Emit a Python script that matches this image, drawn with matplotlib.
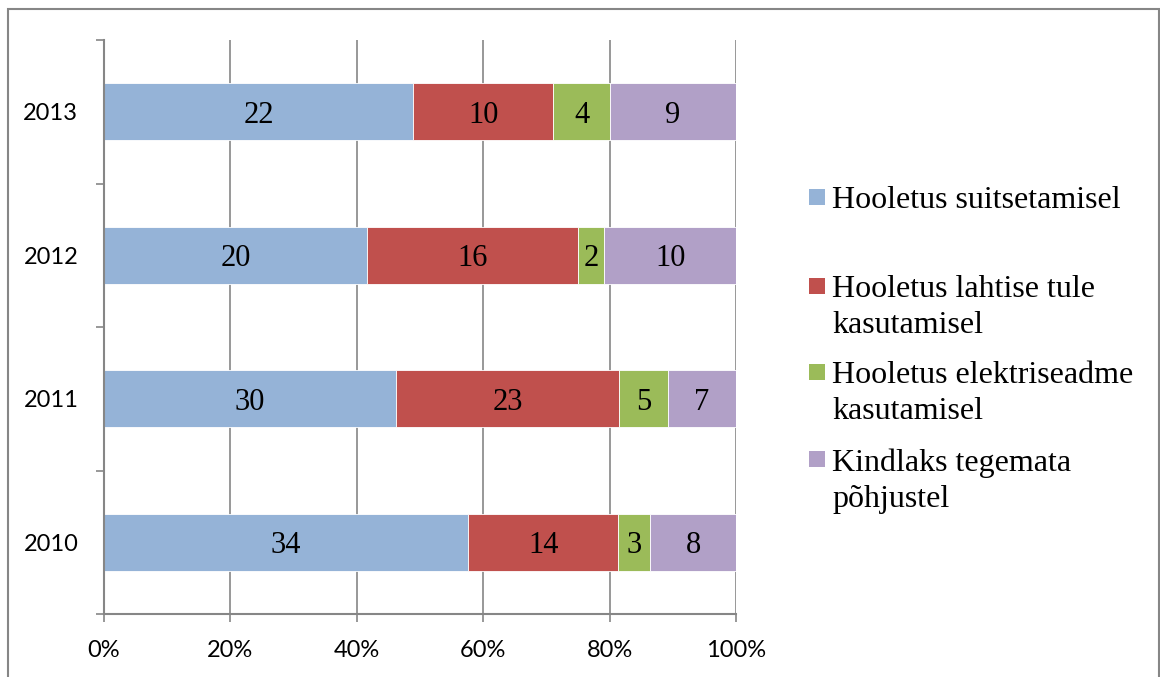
import matplotlib
matplotlib.use('Agg')
import matplotlib.pyplot as plt
from matplotlib.patches import Rectangle
import numpy as np

# andmed
years = ['2010', '2011', '2012', '2013']
series_names = ['Hooletus suitsetamisel',
                'Hooletus lahtise tule\nkasutamisel',
                'Hooletus elektriseadme\nkasutamisel',
                'Kindlaks tegemata\npõhjustel']
smoking = [34, 30, 20, 22]
open_fire = [14, 23, 16, 10]
electric = [3, 5, 2, 4]
unknown = [8, 7, 10, 9]

colors = ['#95B3D7', '#C0504D', '#9BBB59', '#B1A0C7']
grey = '#868686'
serif = 'Liberation Serif'
sans = 'Lato'

W, H = 1160, 677
fig = plt.figure(figsize=(W / 100, H / 100), dpi=100)
fig.patch.set_facecolor('white')

# raam ümber diagrammi
fig.patches.append(Rectangle((8 / W, -0.05), (1159 - 8) / W, 1.05 - 9 / H,
                             transform=fig.transFigure, fill=False,
                             edgecolor=grey, linewidth=1.5))

ax = fig.add_axes([104 / W, 1 - 614 / H, (736 - 104) / W, (614 - 40) / H])

data = np.array([smoking, open_fire, electric, unknown], dtype=float)
totals = data.sum(axis=0)
pct = data / totals * 100

y = np.arange(len(years))
left = np.zeros(len(years))
for vals, p, c in zip(data, pct, colors):
    bars = ax.barh(y, p, left=left, height=0.4, color=c, edgecolor='white',
                   linewidth=0.6, zorder=3)
    labels = ax.bar_label(bars, labels=[str(int(v)) for v in vals], label_type='center',
                          fontsize=22, family=serif, color='black')
    for t in labels:
        t.set_va('center_baseline')
    left += p

ax.set_xlim(0, 100)
ax.set_ylim(-0.5, 3.5)
ax.set_xticks(np.arange(0, 101, 20))
ax.set_xticklabels([f'{v}%' for v in range(0, 101, 20)], family=sans, fontsize=17)
ax.set_yticks(np.arange(-0.5, 3.6, 1.0))
ax.set_yticklabels([])
ax.set_yticks(y, minor=True)
ax.set_yticklabels(years, minor=True, family=sans, fontsize=17)
ax.tick_params(axis='y', which='minor', length=0, pad=18.5)
ax.tick_params(axis='y', which='major', length=6, width=1.2, color=grey, direction='out')
ax.tick_params(axis='x', length=6, width=1.2, color=grey, direction='out', pad=13)

ax.grid(axis='x', color=grey, linewidth=1.2, zorder=0)
ax.set_axisbelow(True)
for s in ['top', 'right']:
    ax.spines[s].set_visible(False)
for s in ['left', 'bottom']:
    ax.spines[s].set_color(grey)
    ax.spines[s].set_linewidth(1.5)
ax.spines['left'].set_zorder(4)

# legend käsitsi
leg_y = [197, 286, 372, 459]
for name, c, ly in zip(series_names, colors, leg_y):
    fig.patches.append(Rectangle((809 / W, 1 - (ly + 8) / H), 16 / W, 16 / H,
                                 transform=fig.transFigure, facecolor=c,
                                 edgecolor='none'))
    fig.text(832 / W, 1 - (ly - 11) / H, name, family=serif, fontsize=23,
             ha='left', va='top', linespacing=1.34)

fig.savefig('out.png', dpi=100, facecolor='white')
